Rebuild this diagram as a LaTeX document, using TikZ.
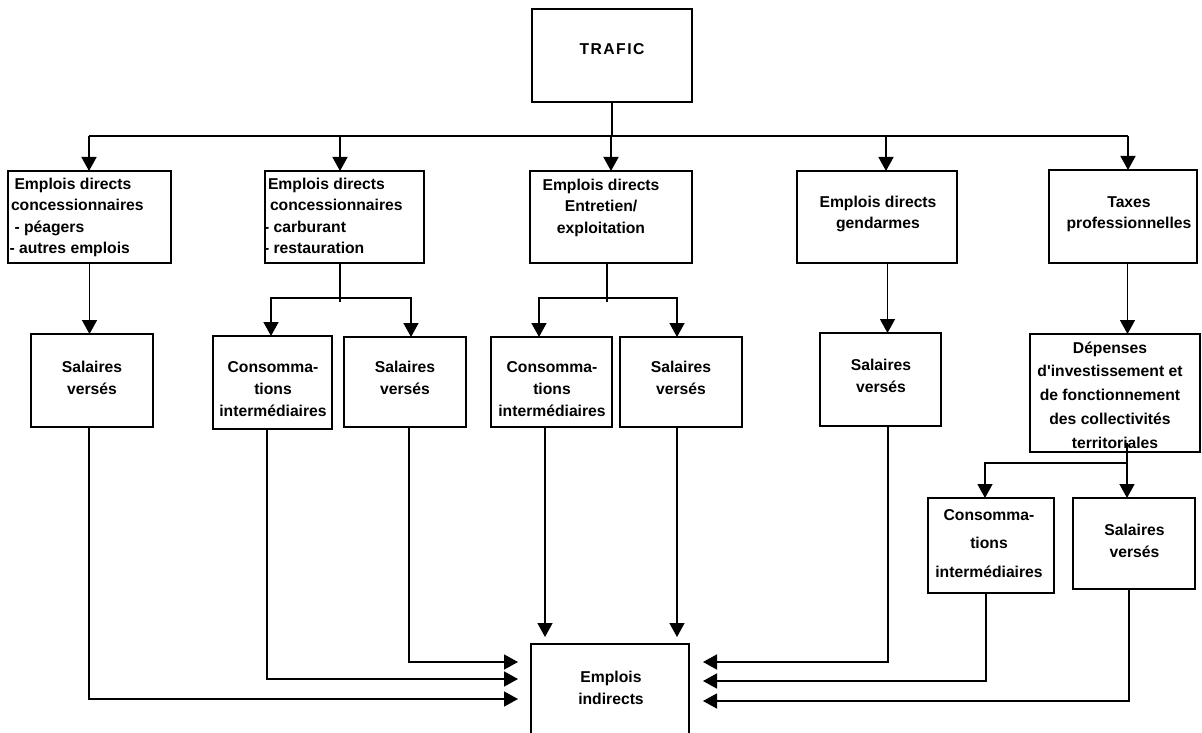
\documentclass[tikz,border=0pt]{standalone}
\usepackage{fontspec}
\setmainfont{Liberation Sans}
\usetikzlibrary{arrows.meta,calc}
\newcommand\fl{\rule{0pt}{12pt}}
\newcommand\mybox[5]{\node[box, anchor=north west, minimum width={(#4-#2)*1pt}, minimum height={(#5-#3)*1pt}] (#1) at (#2,#3) {};}
\begin{document}
\begin{tikzpicture}[x=1pt,y=-1pt,
  box/.style={draw, line width=1.8pt, rectangle, inner sep=0pt, outer sep=0pt},
  txt/.style={inner sep=0pt, outer sep=0pt, anchor=north, align=center, font=\fontsize{15.7}{21.5}\selectfont\bfseries},
  txtl/.style={txt, anchor=north west, align=left},
  sp22/.style={font=\fontsize{15.7}{22}\selectfont\bfseries},
  line/.style={line width=1.5pt},
  arr/.style={line, -{Triangle[length=14pt,width=15pt]}}]
\path[use as bounding box, clip] (0,0) rectangle (1202,733);
\fill[white] (0,0) rectangle (1202,733);
% boxes
\mybox{traf}{532}{9}{692}{102}
\mybox{b1}{8}{171}{171}{263}
\mybox{b2}{265}{171}{424}{263}
\mybox{b3}{530}{171}{692}{263}
\mybox{b4}{797}{171}{957}{263}
\mybox{b5}{1049}{170}{1197}{263}
\mybox{s1}{31}{334}{153}{427}
\mybox{cA}{213}{336}{332}{429}
\mybox{s2}{344}{337}{466}{427}
\mybox{cB}{491}{337}{612}{427}
\mybox{s3}{620}{337}{742}{427}
\mybox{s4}{820}{333}{941}{426}
\mybox{dep}{1030}{334}{1200}{452}
\mybox{cC}{928}{498}{1054}{593}
\mybox{s5}{1073}{498}{1195}{589}
\mybox{ei}{531}{644}{689}{770}
% texts
\node[txt] (ttraf) at (612,43) {\fl\addfontfeature{LetterSpace=9.5}TRAFIC};
\node[txtl] (tb1) at (9.5,177) {\fl\hspace*{5pt}Emplois directs\\\hspace*{1.5pt}concessionnaires\\\hspace*{5pt}- péagers\\- autres emplois};
\node[txtl] (tb2) at (264,177) {\fl\hspace*{4pt}Emplois directs\\\hspace*{6pt}concessionnaires\\- carburant\\- restauration};
\node[txt] (tb3) at (601,178) {\fl Emplois directs\\Entretien/\\exploitation};
\node[txt] (tb4) at (878,195) {\fl Emplois directs\\gendarmes};
\node[txt] (tb5) at (1129,195) {\fl Taxes\\professionnelles};
\node[txt,sp22] (ts1) at (92,360) {\fl Salaires\\versés};
\node[txt,sp22] (tcA) at (273,360) {\fl Consomma-\\tions\\intermédiaires};
\node[txt,sp22] (ts2) at (405,360) {\fl Salaires\\versés};
\node[txt,sp22] (tcB) at (552,360) {\fl Consomma-\\tions\\intermédiaires};
\node[txt,sp22] (ts3) at (681,360) {\fl Salaires\\versés};
\node[txt,sp22] (ts4) at (881,358) {\fl Salaires\\versés};
\node[txt,font=\fontsize{15.7}{23.75}\selectfont\bfseries] (tdep) at (1110,341) {\fl Dépenses\\d\textquotesingle investissement et\\de fonctionnement\\des collectivités\\\hspace*{10pt}territoriales};
\node[txt,font=\fontsize{15.7}{28.5}\selectfont\bfseries] (tcC) at (989,508) {\fl Consomma-\\tions\\intermédiaires};
\node[txt,sp22] (ts5) at (1134.5,523) {\fl Salaires\\versés};
\node[txt,sp22] (tei) at (611,670) {\fl Emplois\\indirects};
% top bus
\coordinate (busL) at (89,136);
\coordinate (busR) at (1128,136);
\draw[line] (traf) -- (traf |- busL);
\draw[line] (busL) -- (busR);
\draw[arr] (busL) -- (busL |- b1.north);
\coordinate (a2) at ([xshift=-4.5pt]b2.north);
\draw[arr] (a2 |- busL) -- (a2);
\draw[arr] (b3.north |- busL) -- (b3.north);
\coordinate (a4) at ([xshift=9pt]b4.north);
\draw[arr] (a4 |- busL) -- (a4);
\coordinate (a5) at ([xshift=5pt]b5.north);
\draw[arr] (a5 |- busL) -- (a5);
% second level
\draw[arr] (b1.south) -- (b1.south |- s1.north);
\coordinate (d2) at ([xshift=-4.5pt]b2.south);
\coordinate (j2) at ($(d2)+(0,35)$);
\draw[line] (d2) -- ($(j2)+(0,4)$);
\coordinate (e2a) at ([xshift=-1.5pt]cA.north);
\coordinate (e2b) at ([xshift=6pt]s2.north);
\draw[arr] (j2) -| (e2a);
\draw[arr] (j2) -| (e2b);
\coordinate (d3) at ([xshift=-4pt]b3.south);
\coordinate (j3) at ($(d3)+(0,35)$);
\draw[line] (d3) -- ($(j3)+(0,4)$);
\coordinate (e3a) at ([xshift=-12.5pt]cB.north);
\coordinate (e3b) at ([xshift=-4pt]s3.north);
\draw[arr] (j3) -| (e3a);
\draw[arr] (j3) -| (e3b);
\coordinate (d4) at ([xshift=10.5pt]b4.south);
\draw[arr] (d4) -- (d4 |- s4.north);
\coordinate (d5) at ([xshift=4.5pt]b5.south);
\draw[arr] (d5) -- (d5 |- dep.north);
\coordinate (dd) at ([xshift=12pt,yshift=9pt]dep.south);
\coordinate (jd) at ($(dd)+(0,20)$);
\draw[line] (dd) -- (jd);
\coordinate (ec) at ([xshift=-6pt]cC.north);
\draw[arr] (jd) -| (ec);
\draw[arr] (jd) -- (jd |- s5.north);
% bottom connectors
\coordinate (eL1) at ([yshift=8pt]ei.west);
\coordinate (eL2) at ([yshift=28pt]ei.west);
\coordinate (eL3) at ([yshift=45pt]ei.west);
\coordinate (eR1) at ([yshift=6pt]ei.east);
\coordinate (eR2) at ([yshift=26pt]ei.east);
\coordinate (eR3) at ([yshift=45pt]ei.east);
\coordinate (f1) at ([xshift=-3pt]s1.south);
\coordinate (f2) at ([xshift=-5.5pt]cA.south);
\coordinate (f3) at ([xshift=4pt]s2.south);
\coordinate (f4) at ([xshift=7.5pt]s4.south);
\coordinate (f5) at ([xshift=-5pt]cC.south);
\coordinate (f6) at ([xshift=-5pt]s5.south);
\draw[arr, shorten >=13pt] (f1) |- (eL1);
\draw[arr, shorten >=13pt] (f2) |- (eL2);
\draw[arr, shorten >=13pt] (f3) |- (eL3);
\draw[arr, shorten >=14pt] (f4) |- (eR3);
\draw[arr, shorten >=14pt] (f5) |- (eR2);
\draw[arr, shorten >=14pt] (f6) |- (eR1);
\coordinate (g1) at ([xshift=-6.5pt]cB.south);
\coordinate (g2) at ([xshift=-4pt]s3.south);
\draw[arr, shorten >=7pt] (g1) -- (g1 |- ei.north);
\draw[arr, shorten >=7pt] (g2) -- (g2 |- ei.north);
\end{tikzpicture}
\end{document}
